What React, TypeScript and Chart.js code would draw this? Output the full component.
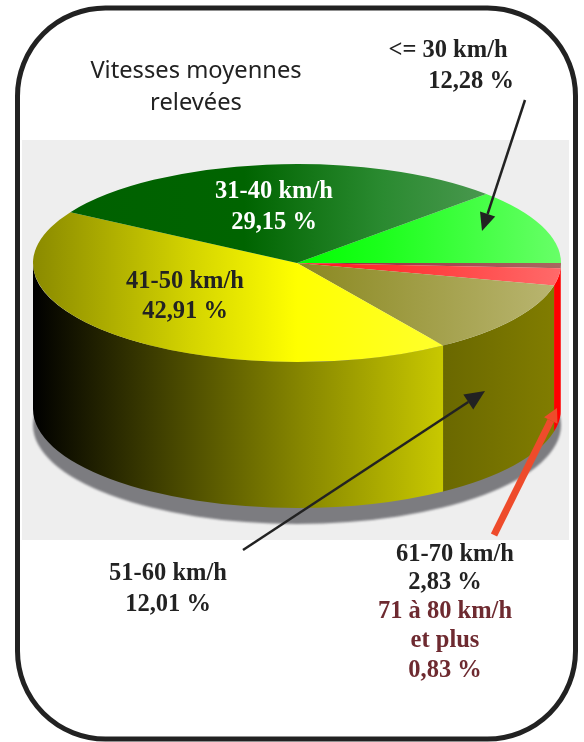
import React, { useEffect, useRef } from "react";
import { Chart, registerables } from "chart.js";

Chart.register(...registerables);

// Data (clockwise from the top-right slice)
const categories = ["<= 30 km/h", "71 à 80 km/h et plus", "61-70 km/h", "51-60 km/h", "41-50 km/h", "31-40 km/h"];
const shares = [12.28, 0.83, 2.83, 12.01, 42.91, 29.15];
const titleLines = ["Vitesses moyennes", "relevées"];
const labelBelow30 = ["<= 30 km/h", "12,28 %"];
const label31 = ["31-40 km/h", "29,15 %"];
const label41 = ["41-50 km/h", "42,91 %"];
const label51 = ["51-60 km/h", "12,01 %"];
const label61 = ["61-70 km/h", "2,83 %"];
const label71 = ["71 à 80 km/h", "et plus", "0,83 %"];

// Styles
type Stops = [number, string][];
const faceStops: Stops[] = [
  [[0, "#00ff00"], [0.5, "#00ff00"], [0.66, "#1cff1c"], [1, "#68ff68"]],
  [[0, "#9a2040"], [0.5, "#9a2040"], [1, "#a86a60"]],
  [[0, "#ff1515"], [0.5, "#ff1515"], [1, "#ff6a6a"]],
  [[0, "#8a8820"], [0.5, "#8a8820"], [1, "#bab672"]],
  [[0, "#8a8a00"], [0.3, "#d4d400"], [0.5, "#ffff00"], [0.8, "#ffff30"], [1, "#ffff30"]],
  [[0, "#006000"], [0.4, "#006400"], [0.66, "#2a8a30"], [0.86, "#4a984f"], [1, "#4a984f"]],
];
const wallStops: Stops[] = [
  [[0, "#00c000"], [1, "#00c000"]],
  [[0, "#ff0000"], [1, "#ff0000"]],
  [[0, "#ff0000"], [1, "#ff0000"]],
  [[0, "#6a6a00"], [0.775, "#6a6800"], [0.98, "#807c00"], [1, "#807c00"]],
  [[0, "#000000"], [0.506, "#868600"], [0.775, "#c8c800"], [1, "#e0e000"]],
  [[0, "#004000"], [1, "#004000"]],
];

const W = 584;
const H = 742;
const PIE_CY = 263;
const PIE_SQUASH = 0.375;
const WALL_DEPTH = 146;
const SHADOW_DROP = 16;
const INK = "#222222";
const SERIF = '"Liberation Serif", serif';

function makeGradient(ctx: CanvasRenderingContext2D, stops: Stops) {
  const g = ctx.createLinearGradient(33, 0, 561, 0);
  stops.forEach(([o, c]) => g.addColorStop(o, c));
  return g;
}

function arrow(ctx: CanvasRenderingContext2D, x0: number, y0: number, x1: number, y1: number, width: number, head: number, headW: number, color: string) {
  const a = Math.atan2(y1 - y0, x1 - x0);
  const bx = x1 - head * Math.cos(a);
  const by = y1 - head * Math.sin(a);
  ctx.save();
  ctx.strokeStyle = color;
  ctx.fillStyle = color;
  ctx.lineWidth = width;
  ctx.beginPath();
  ctx.moveTo(x0, y0);
  ctx.lineTo(bx, by);
  ctx.stroke();
  ctx.beginPath();
  ctx.moveTo(x1, y1);
  ctx.lineTo(bx + (headW / 2) * Math.sin(a), by - (headW / 2) * Math.cos(a));
  ctx.lineTo(bx - (headW / 2) * Math.sin(a), by + (headW / 2) * Math.cos(a));
  ctx.closePath();
  ctx.fill();
  ctx.restore();
}

function lines(ctx: CanvasRenderingContext2D, text: string[], xs: number[], ys: number[], font: string, color: string) {
  ctx.font = font;
  ctx.fillStyle = color;
  ctx.textAlign = "center";
  ctx.textBaseline = "alphabetic";
  text.forEach((t, i) => ctx.fillText(t, xs[i], ys[i]));
}

const piePlugin = {
  id: "pie3d",
  beforeDatasetsDraw(chart: any) {
    const ctx: CanvasRenderingContext2D = chart.ctx;
    const arcs = chart.getDatasetMeta(0).data;
    const { x: cx, y: cy, outerRadius: rx } = arcs[0].getProps(["x", "y", "outerRadius"], true);
    const ry = rx * PIE_SQUASH;

    ctx.save();
    ctx.fillStyle = "#ffffff";
    ctx.fillRect(0, 0, W, H);
    ctx.fillStyle = "#eeeeee";
    ctx.fillRect(22, 140, 547, 400);

    // Shadow
    ctx.save();
    ctx.filter = "blur(1px)";
    ctx.fillStyle = "#7c7c80";
    ctx.beginPath();
    ctx.ellipse(cx, PIE_CY + WALL_DEPTH + SHADOW_DROP, rx, ry, 0, 0, Math.PI * 2);
    ctx.fill();
    ctx.restore();

    // Side walls, front half only
    arcs.forEach((arc: any, i: number) => {
      const { startAngle, endAngle } = arc.getProps(["startAngle", "endAngle"], true);
      const a = Math.max(startAngle, 0);
      const b = Math.min(endAngle, Math.PI);
      if (b <= a) return;
      ctx.fillStyle = makeGradient(ctx, wallStops[i]);
      ctx.beginPath();
      ctx.ellipse(cx, PIE_CY, rx, ry, 0, a, b);
      ctx.ellipse(cx, PIE_CY + WALL_DEPTH, rx, ry, 0, b, a, true);
      ctx.closePath();
      ctx.fill();
    });
    ctx.restore();

    // Squash the library's own arcs into the top face
    ctx.save();
    ctx.translate(0, PIE_CY);
    ctx.scale(1, PIE_SQUASH);
    ctx.translate(0, -cy);
  },
  afterDatasetsDraw(chart: any) {
    const ctx: CanvasRenderingContext2D = chart.ctx;
    ctx.restore();

    // Frame
    ctx.save();
    ctx.strokeStyle = INK;
    ctx.lineWidth = 5;
    ctx.beginPath();
    ctx.roundRect(17.5, 8, 558, 731, 88);
    ctx.stroke();
    ctx.restore();

    // Arrows
    arrow(ctx, 525, 100, 482, 231, 2.5, 18, 16, INK);
    arrow(ctx, 243, 550, 485, 391, 2.5, 20, 18, INK);
    arrow(ctx, 494, 535, 557, 408, 7, 14, 15, "#ee4b2b");

    // Texts
    const bold = `bold 24.5px ${SERIF}`;
    lines(ctx, titleLines, [196, 196], [78, 110], '23.7px "Noto Sans", sans-serif', INK);
    lines(ctx, labelBelow30, [448, 471], [57, 88], bold, INK);
    lines(ctx, label31, [274, 274], [198, 229], bold, "#ffffff");
    lines(ctx, label41, [185, 185], [288, 318], bold, INK);
    lines(ctx, label51, [168, 168], [580, 611], bold, INK);
    lines(ctx, label61, [455, 445], [561, 589], bold, INK);
    lines(ctx, label71, [445, 445, 445], [618, 647, 677], bold, "#6e2a30");
  },
};

export default function App() {
  const ref = useRef<HTMLCanvasElement>(null);
  useEffect(() => {
    const canvas = ref.current!;
    const ctx = canvas.getContext("2d")!;
    const chart = new Chart(canvas, {
      type: "pie",
      data: {
        labels: categories,
        datasets: [
          {
            data: shares,
            backgroundColor: faceStops.map((s) => makeGradient(ctx, s)),
            borderWidth: 0,
            clip: false,
          } as any,
        ],
      },
      options: {
        animation: false,
        responsive: false,
        rotation: 45.8,
        layout: { padding: { left: 33, right: 23, top: 0, bottom: 214 } },
        plugins: { legend: { display: false }, tooltip: { enabled: false }, title: { display: false } },
      },
      plugins: [piePlugin],
    });
    return () => chart.destroy();
  }, []);
  return (
    <div style={{ position: "absolute", left: 0, top: 0, width: W, height: H, background: "#fff" }}>
      <canvas ref={ref} width={W} height={H} style={{ display: "block", width: W, height: H }} />
    </div>
  );
}
